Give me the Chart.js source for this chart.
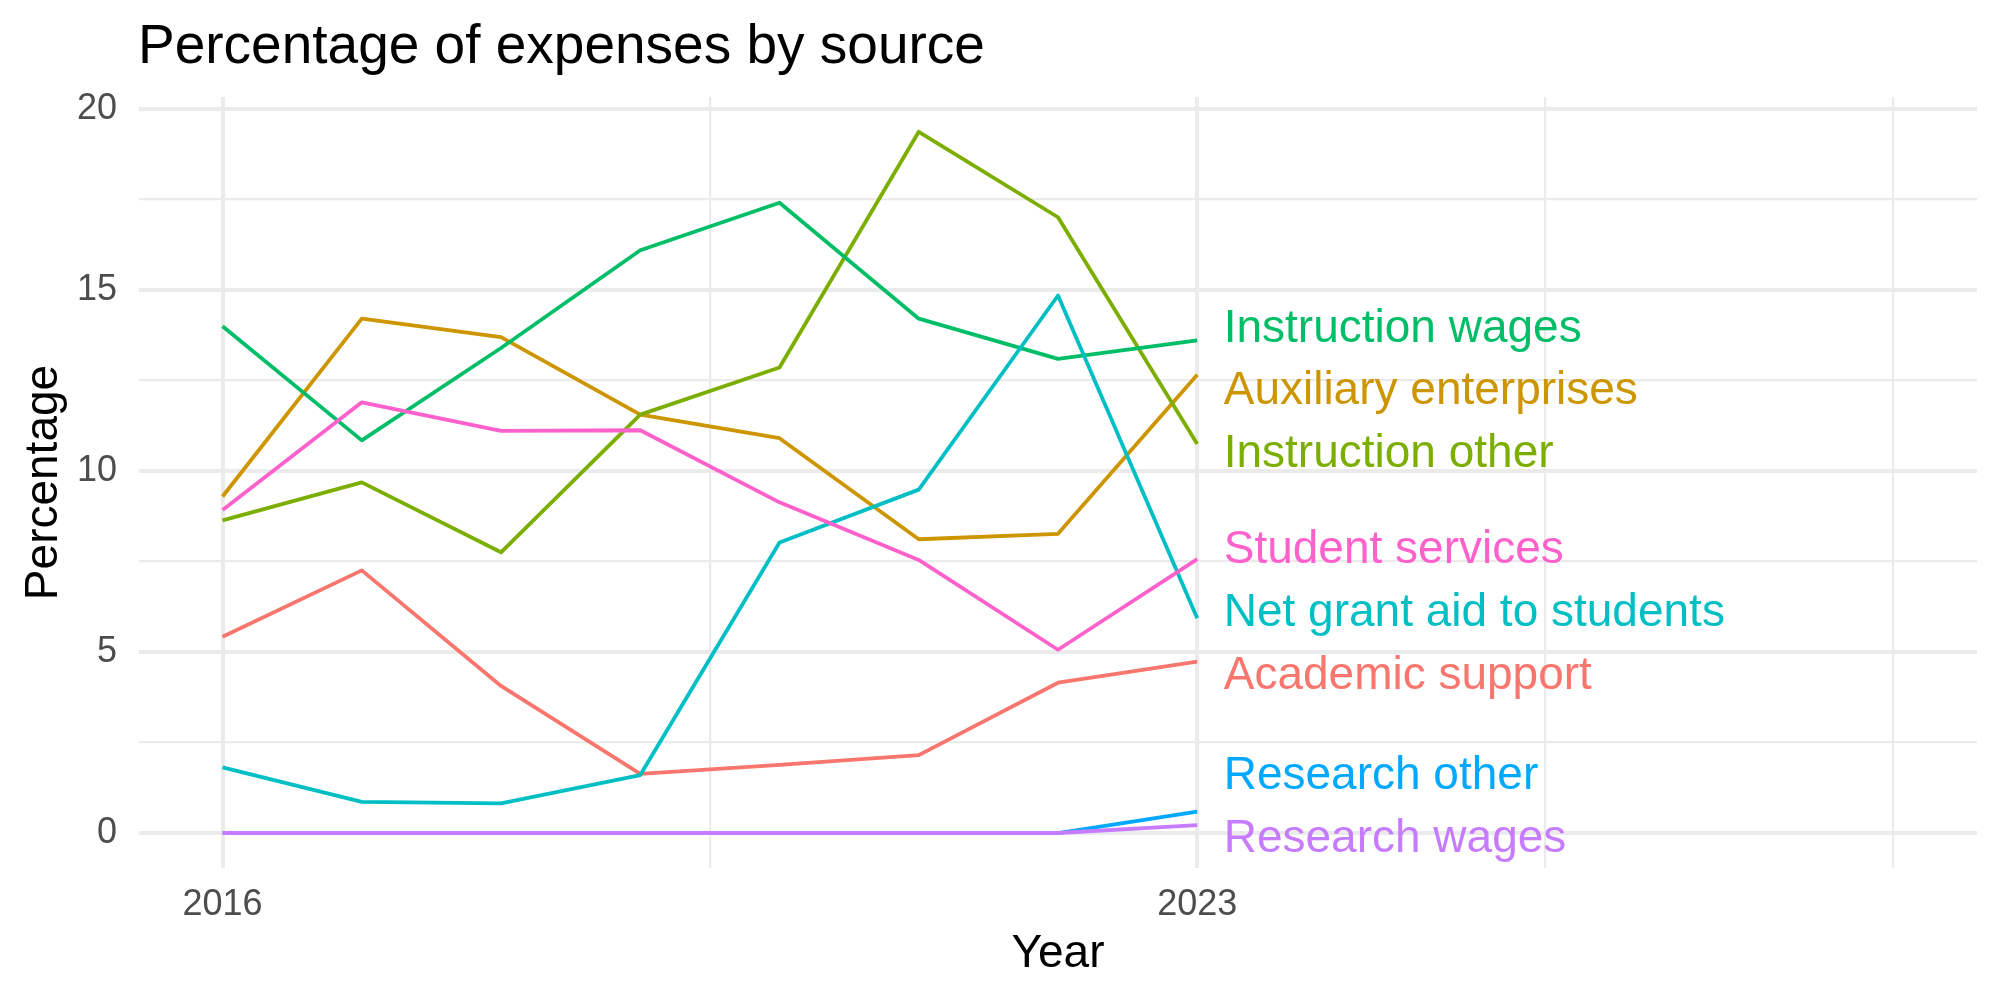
<!DOCTYPE html>
<html>
<head>
<meta charset="utf-8">
<script src="https://cdn.jsdelivr.net/npm/chart.js@4.4.1/dist/chart.umd.min.js"></script>
<style>
  html, body { margin: 0; padding: 0; background: #ffffff; }
  #wrap { width: 2000px; height: 1000px; }
</style>
</head>
<body>
<div id="wrap"><canvas id="myChart" width="2000" height="1000"></canvas></div>
<script>
// data
const years = [2016, 2017, 2018, 2019, 2020, 2021, 2022, 2023];

const academicSupport      = [5.42, 7.25, 4.06, 1.63, 1.88, 2.15, 4.15, 4.73];
const auxiliaryEnterprises = [9.29, 14.2, 13.69, 11.55, 10.9, 8.11, 8.26, 12.65];
const instructionOther     = [8.63, 9.68, 7.75, 11.55, 12.85, 19.36, 17.0, 10.74];
const instructionWages     = [13.99, 10.84, 13.39, 16.09, 17.4, 14.2, 13.09, 13.6];
const netGrantAid          = [1.81, 0.86, 0.82, 1.6, 8.02, 9.48, 14.84, 5.93];
const researchOther        = [0, 0, 0, 0, 0, 0, 0, 0.59];
const researchWages        = [0, 0, 0, 0, 0, 0, 0, 0.22];
const studentServices      = [8.92, 11.89, 11.1, 11.12, 9.13, 7.54, 5.06, 7.56];

const seriesNames = ['Academic support', 'Auxiliary enterprises', 'Instruction other', 'Instruction wages',
                     'Net grant aid to students', 'Research other', 'Research wages', 'Student services'];
const seriesValues = [academicSupport, auxiliaryEnterprises, instructionOther, instructionWages,
                      netGrantAid, researchOther, researchWages, studentServices];
const seriesColors = ['#F8766D', '#CD9600', '#7CAE00', '#00BE67', '#00BFC4', '#00A9FF', '#C77CFF', '#FF61CC'];

// end-of-line labels (x in years, y in percent)
const labelX = 2023.19;
const labelY = [4.32, 12.19, 10.45, 13.92, 6.07, 1.57, -0.17, 7.81];

// axis ticks
const xGridTicks = [2016, 2019.5, 2023, 2025.5, 2028];
const xLabelTicks = [2016, 2023];
const yGridTicks = [0, 2.5, 5, 7.5, 10, 12.5, 15, 17.5, 20];
const yLabelTicks = [0, 5, 10, 15, 20];

const FONT = '"Liberation Sans", Arial, Helvetica, sans-serif';

const textPlugin = {
    id: 'textLabels',
    afterDatasetsDraw(chart) {
        const { ctx, chartArea } = chart;
        const xs = chart.scales.x, ys = chart.scales.y;
        ctx.save();

        // series labels next to the 2023 ends
        ctx.font = '46px ' + FONT;
        ctx.textAlign = 'left';
        ctx.textBaseline = 'middle';
        seriesNames.forEach((name, i) => {
            ctx.fillStyle = seriesColors[i];
            ctx.fillText(name, xs.getPixelForValue(labelX), ys.getPixelForValue(labelY[i]));
        });

        // title
        ctx.fillStyle = '#000000';
        ctx.textBaseline = 'alphabetic';
        ctx.font = '55px ' + FONT;
        ctx.fillText('Percentage of expenses by source', chartArea.left - 1, 63);

        // axis titles
        ctx.font = '46px ' + FONT;
        ctx.textAlign = 'center';
        ctx.fillText('Year', (chartArea.left + chartArea.right) / 2, 967);

        ctx.translate(57, (chartArea.top + chartArea.bottom) / 2);
        ctx.rotate(-Math.PI / 2);
        ctx.fillText('Percentage', 0, 0);

        ctx.restore();
    }
};

const ctx = document.getElementById('myChart').getContext('2d');

const chart = new Chart(ctx, {
    type: 'line',
    data: {
        datasets: seriesNames.map((name, i) => ({
            label: name,
            data: years.map((yr, j) => ({ x: yr, y: seriesValues[i][j] })),
            borderColor: seriesColors[i],
            backgroundColor: seriesColors[i],
            borderWidth: 3.8,
            borderJoinStyle: 'round',
            pointRadius: 0,
            tension: 0,
            fill: false,
            order: seriesNames.length - i // later series drawn on top, like ggplot
        }))
    },
    options: {
        responsive: false,
        devicePixelRatio: 1,
        animation: false,
        layout: { padding: { top: 97, right: 23, bottom: 0, left: 0 } },
        scales: {
            x: {
                type: 'linear',
                min: 2015.4,
                max: 2028.6,
                afterBuildTicks: (scale) => { scale.ticks = xGridTicks.map(v => ({ value: v })); },
                afterFit: (scale) => { scale.height = 132; },
                border: { display: false },
                grid: {
                    color: '#EBEBEB',
                    drawTicks: false,
                    lineWidth: (c) => (c.tick && xLabelTicks.includes(c.tick.value)) ? 4 : 2.2
                },
                ticks: {
                    autoSkip: false,
                    maxRotation: 0,
                    padding: 15,
                    color: '#4D4D4D',
                    font: { family: FONT, size: 36 },
                    callback: (v) => xLabelTicks.includes(v) ? String(v) : ''
                }
            },
            y: {
                type: 'linear',
                min: -0.966,
                max: 20.32,
                afterBuildTicks: (scale) => { scale.ticks = yGridTicks.map(v => ({ value: v })); },
                afterFit: (scale) => { scale.width = 139; },
                border: { display: false },
                grid: {
                    color: '#EBEBEB',
                    drawTicks: false,
                    lineWidth: (c) => (c.tick && yLabelTicks.includes(c.tick.value)) ? 4 : 2.2
                },
                ticks: {
                    autoSkip: false,
                    padding: 22,
                    color: '#4D4D4D',
                    font: { family: FONT, size: 36 },
                    callback: (v) => yLabelTicks.includes(v) ? String(v) : ''
                }
            }
        },
        plugins: {
            legend: { display: false },
            tooltip: { enabled: false },
            title: { display: false }
        }
    },
    plugins: [textPlugin]
});
</script>
</body>
</html>
